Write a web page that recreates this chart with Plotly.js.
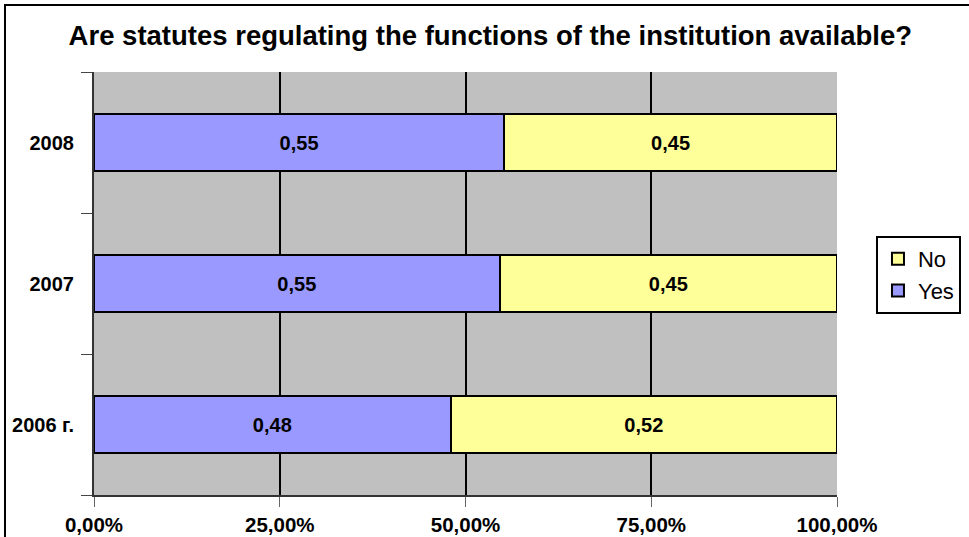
<!DOCTYPE html>
<html>
<head>
<meta charset="utf-8">
<script src="https://cdn.plot.ly/plotly-3.0.1.min.js"></script>
<style>
  html, body { margin: 0; padding: 0; background: #ffffff; overflow: hidden; }
  #wrap { position: relative; width: 969px; height: 537px; overflow: hidden; }
  #chart { width: 969px; height: 537px; }
  #frame { position: absolute; left: 4px; top: 4px; width: 990px; height: 560px;
           border: 2px solid #000; pointer-events: none; }
</style>
</head>
<body>
<div id="wrap">
  <div id="chart"></div>
  <div id="frame"></div>
</div>
<script>
const categories = ['2006 г.', '2007', '2008'];
const yesValues = [0.48, 0.546, 0.552];
const noValues = [0.52, 0.454, 0.448];
const xTickVals = [0, 0.25, 0.5, 0.75, 1];

const fontFam = 'Liberation Sans, Arial, sans-serif';

const traceYes = {
  type: 'bar', orientation: 'h', name: 'Yes',
  y: categories, x: yesValues,
  marker: { color: '#9999FF', line: { color: '#000000', width: 2 } },
  texttemplate: '%{x:.2f}', textposition: 'inside', insidetextanchor: 'middle',
  textfont: { family: fontFam, size: 20, color: '#000000', weight: 'bold' },
  hoverinfo: 'none'
};
const traceNo = {
  type: 'bar', orientation: 'h', name: 'No',
  y: categories, x: noValues,
  marker: { color: '#FFFF99', line: { color: '#000000', width: 2 } },
  texttemplate: '%{x:.2f}', textposition: 'inside', insidetextanchor: 'middle',
  textfont: { family: fontFam, size: 20, color: '#000000', weight: 'bold' },
  hoverinfo: 'none'
};

const layout = {
  width: 969, height: 537,
  margin: { l: 94, r: 132, t: 72, b: 42, autoexpand: false },
  paper_bgcolor: '#ffffff',
  plot_bgcolor: '#C0C0C0',
  separators: ',.',
  barmode: 'stack',
  bargap: 0.6,
  showlegend: true,
  title: {
    text: 'Are statutes regulating the functions of the institution available?',
    x: 0.506, xanchor: 'center', y: 0.935, yanchor: 'middle',
    font: { family: fontFam, size: 27.5, color: '#000000', weight: 'bold' }
  },
  xaxis: {
    range: [0, 1], tickvals: xTickVals, tickformat: '.2%',
    showgrid: true, gridcolor: '#000000', gridwidth: 2,
    zeroline: false, showline: true, linecolor: '#333333', linewidth: 2,
    ticks: 'outside', ticklen: 10, tickcolor: '#666666', tickwidth: 1,
    tickfont: { family: fontFam, size: 20.5, color: '#000000', weight: 'bold' },
    fixedrange: true
  },
  yaxis: {
    type: 'category', categoryorder: 'array', categoryarray: categories,
    showgrid: false, zeroline: false, showline: true, linecolor: '#333333', linewidth: 2,
    ticks: 'outside', tickson: 'boundaries', ticklen: 11, tickcolor: '#444444', tickwidth: 1,
    ticklabelstandoff: 14,
    tickfont: { family: fontFam, size: 20, color: '#000000', weight: 'bold' },
    fixedrange: true
  },
  legend: {
    xref: 'container', x: 0.904, xanchor: 'left', y: 0.52, yanchor: 'middle',
    traceorder: 'reversed',
    bgcolor: '#ffffff', bordercolor: '#000000', borderwidth: 2,
    font: { family: fontFam, size: 22, color: '#000000' },
    itemwidth: 30
  }
};

Plotly.newPlot('chart', [traceYes, traceNo], layout, { displayModeBar: false, staticPlot: true });
</script>
</body>
</html>
